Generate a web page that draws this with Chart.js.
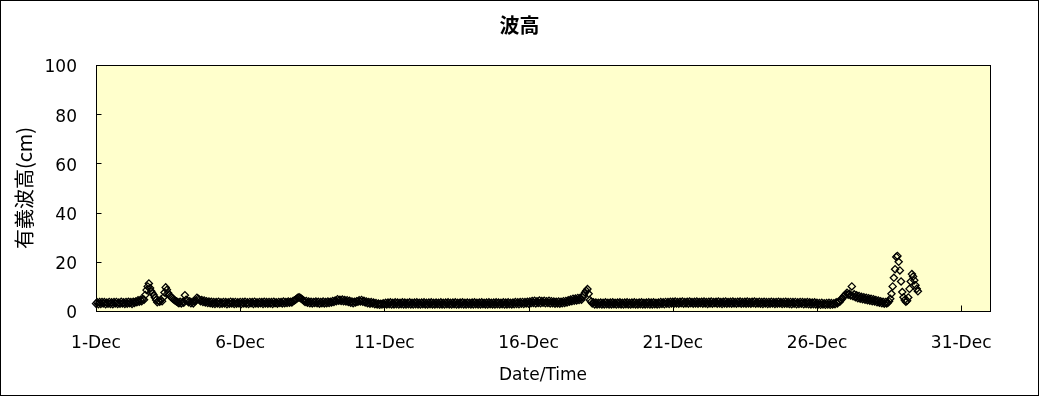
<!DOCTYPE html>
<html><head><meta charset="utf-8">
<script src="https://cdn.jsdelivr.net/npm/chart.js@4.4.0/dist/chart.umd.min.js"></script>
<style>html,body{margin:0;padding:0;background:#fff;} canvas{display:block;}</style>
</head><body>
<canvas id="c" width="1039" height="396"></canvas>
<script>
const chartTitle = '波高';
const xAxisTitle = 'Date/Time';
const yAxisTitle = '有義波高(cm)';
const xTickDays = [0, 5, 10, 15, 20, 25, 30];
const xTickLabels = ['1-Dec', '6-Dec', '11-Dec', '16-Dec', '21-Dec', '26-Dec', '31-Dec'];
const yTicks = [0, 20, 40, 60, 80, 100];

// hourly significant wave height (cm), one row per day starting 1-Dec 00:00
const dec01 = [3.0,3.5,2.8,3.6,2.9,3.7,3.1,3.6,2.8,3.4,3.0,3.7,2.9,3.5,2.8,3.6,3.1,3.7,2.9,3.4,3.0,3.8,3.1,3.5];
const dec02 = [2.9,3.7,3.0,3.8,3.2,3.6,2.9,3.8,3.3,3.9,3.6,4.4,3.8,4.6,4.0,4.9,4.6,6.5,8.5,10.0,11.2,9.3,8.0,7.2];
const dec03 = [6.5,5.5,4.5,3.6,4.2,3.8,4.6,4.0,5.5,7.5,9.6,8.6,7.3,6.5,6.0,5.4,5.0,4.6,4.2,3.9,3.6,3.2,3.8,3.1];
const dec04 = [3.7,3.4,6.4,4.6,4.2,3.6,4.0,3.2,3.7,3.1,3.8,4.2,5.4,5.0,4.6,4.0,4.5,3.7,4.3,3.5,4.0,3.3,3.9,3.2];
const dec05 = [3.8,3.0,3.7,2.9,3.6,3.1,3.8,2.9,3.5,3.0,3.7,3.1,3.6,2.8,3.5,3.0,3.8,3.1,3.6,2.9,3.7,3.0,3.5,3.1];
const dec06 = [3.7,2.9,3.6,3.1,3.8,3.0,3.5,2.9,3.7,3.2,3.6,2.9,3.8,3.1,3.5,3.0,3.7,3.2,3.6,2.9,3.8,3.1,3.6,3.0];
const dec07 = [3.7,3.1,3.6,2.9,3.8,3.2,3.5,3.0,3.7,3.3,3.6,3.1,3.9,3.2,3.7,3.3,3.9,3.4,3.8,3.5,4.1,4.3,4.6,5.0];
const dec08 = [5.4,5.6,5.3,5.0,4.6,4.2,3.7,4.1,3.4,3.9,3.2,3.8,3.1,3.7,3.3,3.9,3.2,3.8,3.0,3.7,3.2,3.9,3.1,3.7];
const dec09 = [3.2,3.9,3.3,3.8,3.5,4.1,3.7,4.3,4.0,4.8,4.2,4.6,4.1,4.7,4.0,4.5,3.9,4.4,3.7,4.2,3.4,3.9,3.2,3.8];
const dec10 = [3.5,4.0,3.8,4.4,3.9,4.5,3.8,4.2,3.5,3.9,3.2,3.7,3.0,3.6,3.1,3.4,2.8,3.2,2.6,3.0,2.5,2.9,2.6,3.1];
const dec11 = [2.6,3.3,2.7,3.4,2.8,3.5,2.6,3.3,2.7,3.5,2.8,3.4,2.6,3.3,2.8,3.5,2.7,3.4,2.6,3.3,2.8,3.5,2.7,3.3];
const dec12 = [2.6,3.4,2.8,3.5,2.7,3.3,2.6,3.4,2.8,3.5,2.7,3.3,2.6,3.4,2.8,3.5,2.7,3.3,2.6,3.4,2.8,3.3,2.7,3.5];
const dec13 = [2.7,3.3,2.6,3.4,2.8,3.5,2.7,3.3,2.6,3.4,2.8,3.5,2.6,3.3,2.7,3.4,2.8,3.5,2.7,3.3,2.6,3.4,2.8,3.3];
const dec14 = [2.6,3.4,2.7,3.5,2.8,3.3,2.6,3.4,2.7,3.5,2.8,3.3,2.7,3.4,2.6,3.5,2.8,3.3,2.7,3.4,2.6,3.5,2.8,3.4];
const dec15 = [2.7,3.3,2.8,3.5,2.6,3.4,2.7,3.5,2.8,3.3,2.7,3.4,2.8,3.6,2.9,3.5,2.8,3.6,3.0,3.7,2.9,3.6,3.1,3.8];
const dec16 = [3.0,3.9,3.2,4.1,3.3,4.2,3.1,4.0,3.3,4.3,3.2,4.1,3.4,4.2,3.2,4.0,3.3,4.2,3.1,4.0,3.2,3.9,3.0,3.8];
const dec17 = [3.1,3.9,3.0,3.8,3.2,4.0,3.3,4.1,3.5,4.4,3.8,4.7,4.0,5.0,4.2,5.1,4.3,5.3,4.5,5.4,4.6,5.6,6.5,7.5];
const dec18 = [8.2,8.9,7.0,4.5,3.8,3.1,3.5,2.7,3.4,2.6,3.3,2.8,3.4,2.6,3.3,2.7,3.5,2.8,3.3,2.6,3.4,2.7,3.5,2.8];
const dec19 = [3.3,2.6,3.4,2.8,3.5,2.7,3.3,2.6,3.4,2.8,3.5,2.7,3.3,2.6,3.4,2.8,3.5,2.7,3.3,2.6,3.4,2.8,3.5,2.7];
const dec20 = [3.3,2.7,3.4,2.8,3.5,2.6,3.4,2.7,3.5,2.8,3.3,2.7,3.4,2.8,3.6,2.9,3.5,2.8,3.7,3.0,3.6,2.9,3.8,3.1];
const dec21 = [3.8,3.0,3.9,3.1,3.7,3.0,3.8,3.2,3.9,3.0,3.7,3.1,3.8,3.0,3.9,3.2,3.7,3.0,3.8,3.1,3.9,3.0,3.7,3.2];
const dec22 = [3.8,3.0,3.9,3.1,3.7,2.9,3.8,3.1,3.9,3.0,3.7,3.2,3.8,3.0,3.9,3.1,3.7,2.9,3.8,3.1,3.9,3.0,3.7,3.1];
const dec23 = [3.8,3.0,3.9,3.1,3.7,3.0,3.8,3.2,3.9,3.0,3.7,3.1,3.8,3.0,3.9,3.1,3.7,3.0,3.8,3.2,3.9,3.0,3.7,3.1];
const dec24 = [3.8,3.0,3.7,2.9,3.8,3.1,3.6,2.9,3.7,3.0,3.8,3.1,3.6,2.9,3.7,3.0,3.8,3.1,3.6,2.9,3.7,3.0,3.8,3.0];
const dec25 = [3.6,2.9,3.7,2.8,3.6,3.0,3.7,2.8,3.5,2.9,3.7,3.0,3.6,2.8,3.5,2.9,3.6,2.8,3.5,2.7,3.4,2.8,3.5,2.7];
const dec26 = [3.3,2.6,3.2,2.5,3.3,2.6,3.1,2.5,3.2,2.6,3.3,2.5,3.2,2.6,3.1,2.8,3.5,3.1,3.9,3.8,4.6,5.0,5.8,6.3];
const dec27 = [6.8,7.4,6.6,7.0,6.3,10.0,6.0,6.8,5.6,6.4,5.2,6.1,5.0,5.8,4.8,5.6,4.6,5.4,4.4,5.2,4.2,5.0,4.0,4.8];
const dec28 = [3.9,4.5,3.6,4.3,3.4,4.0,3.2,3.8,3.0,3.6,3.1,3.4,4.0,5.0,7.0,10.0,13.5,17.0,22.0,22.4,20.0,16.5,12.0,7.7];
const dec29 = [5.6,4.5,3.8,4.2,5.5,9.0,12.0,15.0,14.0,12.5,10.5,9.0,8.0];

const dailyValues = [dec01,dec02,dec03,dec04,dec05,dec06,dec07,dec08,dec09,dec10,dec11,dec12,dec13,dec14,dec15,
  dec16,dec17,dec18,dec19,dec20,dec21,dec22,dec23,dec24,dec25,dec26,dec27,dec28,dec29];

const points = [];
dailyValues.forEach((row, d) => row.forEach((v, h) => points.push({x: d + h / 24, y: v})));

const jpFont = "'Noto Sans CJK JP', 'DejaVu Sans', sans-serif";
const latinFont = "'DejaVu Sans', sans-serif";

const framePlugin = {
  id: 'frame',
  beforeDraw(chart) {
    const {ctx, chartArea: a} = chart;
    ctx.save();
    ctx.fillStyle = '#ffffff';
    ctx.fillRect(0, 0, chart.width, chart.height);
    ctx.fillStyle = '#FFFFCC';
    ctx.fillRect(a.left, a.top, a.right - a.left, a.bottom - a.top);
    ctx.restore();
  },
  afterDraw(chart) {
    const {ctx, chartArea: a, scales} = chart;
    ctx.save();
    ctx.strokeStyle = '#000';
    ctx.lineWidth = 1;
    const L = Math.round(a.left) + 0.5, T = Math.round(a.top) + 0.5;
    const R = Math.round(a.right) + 0.5, B = Math.round(a.bottom) + 0.5;
    ctx.strokeRect(L, T, R - L, B - T);
    ctx.beginPath();
    yTicks.forEach(v => {
      const y = Math.round(scales.y.getPixelForValue(v)) + 0.5;
      ctx.moveTo(L, y); ctx.lineTo(L + 5, y);
    });
    xTickDays.forEach(v => {
      const x = Math.round(scales.x.getPixelForValue(v)) + 0.5;
      ctx.moveTo(x, B); ctx.lineTo(x, B - 6);
    });
    ctx.stroke();
    ctx.strokeRect(0.5, 0.5, chart.width - 1, chart.height - 1);
    ctx.restore();
  }
};

new Chart(document.getElementById('c'), {
  type: 'scatter',
  data: {
    datasets: [{
      data: points,
      showLine: false,
      pointStyle: 'rectRot',
      pointRadius: 3.6,
      pointBorderWidth: 1.3,
      pointBorderColor: '#000',
      pointBackgroundColor: 'rgba(0,0,0,0)',
      clip: false
    }]
  },
  options: {
    responsive: false,
    animation: false,
    events: [],
    layout: {padding: 0},
    plugins: {
      legend: {display: false},
      tooltip: {enabled: false},
      title: {
        display: true, text: chartTitle, color: '#000',
        font: {family: jpFont, size: 20, weight: 'bold'},
        padding: {top: 13, bottom: 28}
      }
    },
    scales: {
      x: {
        type: 'linear', min: 0, max: 31,
        grid: {display: false, drawTicks: false},
        border: {display: false},
        ticks: {
          stepSize: 5, includeBounds: false, autoSkip: false, maxRotation: 0,
          padding: 22, color: '#000', font: {family: latinFont, size: 17},
          callback: (v) => { const i = xTickDays.indexOf(v); return i >= 0 ? xTickLabels[i] : ''; }
        },
        title: {display: true, text: xAxisTitle, color: '#000', font: {family: latinFont, size: 17}, padding: {top: 0, bottom: 10}},
        afterFit: (s) => { s.height = 85; }
      },
      y: {
        min: 0, max: 100,
        grid: {display: false, drawTicks: false},
        border: {display: false},
        ticks: {stepSize: 20, padding: 19, labelOffset: 3, color: '#000', font: {family: latinFont, size: 17}},
        title: {display: true, text: yAxisTitle, color: '#000', font: {family: jpFont, size: 20}, padding: {top: 12, bottom: 0}},
        afterFit: (s) => { s.width = 96; }
      },
      yRight: {
        position: 'right', display: true,
        grid: {display: false, drawTicks: false},
        border: {display: false},
        ticks: {display: false},
        afterFit: (s) => { s.width = 49; }
      }
    }
  },
  plugins: [framePlugin]
});
</script>
</body></html>
